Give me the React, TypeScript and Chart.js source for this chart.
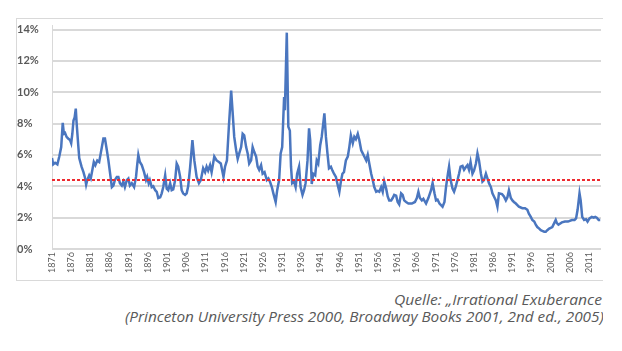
import React, { useEffect, useRef } from "react";
import { Chart, registerables } from "chart.js";

Chart.register(...registerables);

// Dividend yield (year, percent)
const years = [
  1871.0, 1871.3, 1871.8, 1872.4, 1872.9, 1873.4, 1873.8, 1874.1, 1874.4, 1874.8,
  1875.2, 1875.7, 1876.0, 1876.3, 1876.6, 1876.9, 1877.2, 1877.4, 1877.8, 1878.1,
  1878.7, 1879.2, 1879.6, 1879.9, 1880.2, 1880.7, 1881.1, 1881.6, 1881.9, 1882.3,
  1882.8, 1883.3, 1883.7, 1884.0, 1884.4, 1884.8, 1885.3, 1885.7, 1886.1, 1886.6,
  1887.0, 1887.4, 1887.9, 1888.3, 1888.7, 1889.2, 1889.6, 1890.0, 1890.5, 1890.9,
  1891.3, 1891.8, 1892.4, 1892.9, 1893.2, 1893.5, 1893.9, 1894.4, 1895.0, 1895.5,
  1895.8, 1896.2, 1896.5, 1897.0, 1897.4, 1897.9, 1898.3, 1898.7, 1899.2, 1899.6,
  1900.0, 1900.5, 1900.9, 1901.3, 1901.8, 1902.2, 1902.6, 1903.1, 1903.5, 1903.9,
  1904.4, 1904.8, 1905.2, 1905.7, 1906.1, 1906.5, 1907.0, 1907.6, 1908.1, 1908.7,
  1909.3, 1909.8, 1910.4, 1910.9, 1911.3, 1911.7, 1912.2, 1912.6, 1913.3, 1913.9,
  1914.5, 1915.0, 1915.7, 1916.1, 1916.6, 1917.1, 1917.7, 1918.1, 1918.5, 1919.0,
  1919.4, 1919.8, 1920.3, 1920.7, 1921.1, 1921.6, 1922.0, 1922.4, 1922.9, 1923.3,
  1923.7, 1924.2, 1924.6, 1925.0, 1925.5, 1925.9, 1926.4, 1927.0, 1927.4, 1927.8,
  1928.3, 1928.7, 1929.3, 1929.7, 1930.2, 1930.6, 1931.0, 1931.5, 1931.7, 1932.2,
  1932.6, 1933.0, 1933.3, 1933.6, 1934.1, 1934.5, 1934.9, 1935.4, 1935.8, 1936.3,
  1936.7, 1937.1, 1937.6, 1938.0, 1938.3, 1938.7, 1939.1, 1939.6, 1940.0, 1940.4,
  1940.9, 1941.3, 1941.7, 1942.0, 1942.4, 1942.8, 1943.2, 1943.7, 1944.1, 1944.5,
  1945.0, 1945.5, 1945.9, 1946.3, 1946.7, 1947.1, 1947.6, 1948.1, 1948.5, 1948.9,
  1949.4, 1949.8, 1950.2, 1950.7, 1951.1, 1951.6, 1952.0, 1952.4, 1952.9, 1953.3,
  1953.7, 1954.2, 1954.6, 1955.0, 1955.5, 1955.9, 1956.3, 1956.8, 1957.2, 1957.6,
  1958.1, 1958.5, 1958.9, 1959.4, 1959.8, 1960.2, 1960.7, 1961.1, 1961.5, 1962.0,
  1962.4, 1962.8, 1963.3, 1963.9, 1964.8, 1965.6, 1966.1, 1966.5, 1966.9, 1967.4,
  1967.8, 1968.5, 1969.1, 1969.8, 1970.2, 1970.7, 1971.1, 1971.5, 1972.0, 1972.4,
  1972.8, 1973.3, 1973.7, 1974.2, 1974.5, 1974.9, 1975.4, 1975.8, 1976.2, 1976.7,
  1977.1, 1977.5, 1978.0, 1978.4, 1978.8, 1979.3, 1979.7, 1980.1, 1980.6, 1981.0,
  1981.5, 1981.9, 1982.3, 1982.8, 1983.2, 1983.6, 1984.1, 1984.5, 1984.9, 1985.4,
  1985.8, 1986.2, 1986.7, 1987.1, 1987.5, 1988.3, 1988.8, 1989.3, 1989.7, 1990.1,
  1990.6, 1991.0, 1991.4, 1991.9, 1992.3, 1992.7, 1993.6, 1994.3, 1994.9, 1995.3,
  1995.8, 1996.2, 1996.7, 1997.1, 1997.5, 1998.0, 1998.4, 1998.8, 1999.3, 1999.7,
  2000.1, 2000.6, 2001.0, 2001.4, 2001.9, 2002.3, 2002.6, 2003.0, 2003.9, 2004.7,
  2005.5, 2006.5, 2007.2, 2007.6, 2008.0, 2008.5, 2008.8, 2009.2, 2009.7, 2010.2,
  2010.6, 2011.1, 2011.7, 2012.2, 2012.6, 2013.0, 2013.5, 2013.9,
];

const yields = [
  5.8, 5.4, 5.5, 5.4, 5.9, 6.5, 8.05, 7.35, 7.4, 7.15,
  7.05, 6.95, 6.75, 7.35, 8.2, 8.4, 8.95, 8.1, 6.75, 5.8,
  5.25, 4.9, 4.55, 4.1, 4.4, 4.7, 4.5, 5.15, 5.55, 5.35,
  5.65, 5.55, 6.1, 6.5, 7.05, 7.05, 6.3, 5.65, 4.9, 3.95,
  4.05, 4.4, 4.6, 4.6, 4.2, 4.05, 4.3, 3.95, 4.4, 4.5,
  4.05, 4.2, 3.95, 4.6, 5.35, 6.0, 5.55, 5.35, 4.9, 4.4,
  4.6, 4.2, 4.4, 3.95, 4.0, 3.75, 3.65, 3.25, 3.3, 3.55,
  3.95, 4.7, 3.85, 3.75, 4.2, 3.75, 3.8, 4.4, 5.45, 5.25,
  4.6, 3.75, 3.55, 3.45, 3.55, 4.0, 5.2, 6.95, 5.65, 4.6,
  4.2, 4.4, 5.15, 4.9, 5.25, 5.0, 5.35, 4.9, 5.9, 5.65,
  5.55, 5.45, 4.6, 5.25, 5.65, 7.8, 10.1, 8.65, 7.15, 6.3,
  5.75, 6.1, 6.5, 7.35, 7.25, 6.5, 6.1, 5.45, 5.65, 6.5,
  6.2, 5.9, 5.25, 5.05, 5.35, 4.8, 4.9, 4.4, 4.5, 4.3,
  3.95, 3.55, 3.0, 3.75, 4.4, 6.1, 6.5, 9.7, 8.85, 13.8,
  7.8, 7.55, 5.25, 4.2, 4.3, 3.95, 4.8, 5.25, 3.95, 3.45,
  3.75, 4.2, 5.65, 7.7, 6.95, 4.15, 4.8, 4.7, 5.65, 5.45,
  6.6, 7.15, 8.0, 8.65, 7.15, 6.1, 5.15, 5.25, 5.0, 4.8,
  4.6, 4.05, 3.65, 4.3, 4.8, 4.9, 5.65, 5.9, 6.5, 7.25,
  6.75, 7.15, 7.0, 7.35, 6.95, 6.3, 6.1, 5.9, 5.65, 6.0,
  5.45, 4.8, 4.4, 3.95, 3.65, 3.7, 3.65, 3.95, 3.65, 4.3,
  3.85, 3.35, 3.1, 3.1, 3.25, 3.45, 3.4, 3.0, 2.85, 3.55,
  3.45, 3.1, 3.0, 2.9, 2.9, 3.0, 3.25, 3.65, 3.25, 3.1,
  3.2, 2.9, 3.25, 3.75, 4.2, 3.55, 3.1, 3.15, 2.9, 2.8,
  2.7, 3.0, 3.95, 4.8, 5.25, 4.4, 3.85, 3.65, 3.95, 4.4,
  4.8, 5.25, 5.3, 5.05, 5.2, 5.35, 5.05, 5.55, 4.8, 5.0,
  5.45, 6.1, 5.65, 4.8, 4.3, 4.4, 4.8, 4.5, 4.2, 3.95,
  3.55, 3.35, 3.1, 2.7, 3.55, 3.5, 3.35, 3.1, 3.3, 3.75,
  3.25, 3.1, 3.0, 2.9, 2.8, 2.7, 2.6, 2.6, 2.5, 2.25,
  2.05, 1.85, 1.75, 1.55, 1.4, 1.3, 1.2, 1.15, 1.1, 1.1,
  1.2, 1.3, 1.35, 1.4, 1.65, 1.85, 1.65, 1.55, 1.7, 1.75,
  1.75, 1.85, 1.85, 1.95, 2.5, 3.55, 3.1, 2.05, 1.85, 1.9,
  1.75, 1.95, 2.05, 2.0, 2.05, 2.0, 1.85, 1.85,
];

const averageYield = 4.4;
const averageSpan = [1871, 2014.1];

const yTickValues = [0, 2, 4, 6, 8, 10, 12, 14];
const xTickYears = [
  1871, 1876, 1881, 1886, 1891, 1896, 1901, 1906, 1911, 1916,
  1921, 1926, 1931, 1936, 1941, 1946, 1951, 1956, 1961, 1966,
  1971, 1976, 1981, 1986, 1991, 1996, 2001, 2006, 2011,
];

const captionLine1 = "Quelle: \u201EIrrational Exuberance";
const captionLine2 = "(Princeton University Press 2000, Broadway Books 2001, 2nd ed., 2005";
const captionLine2Tail = ")";

export default function App() {
  const canvasRef = useRef<HTMLCanvasElement>(null);
  const line1Ref = useRef<HTMLSpanElement>(null);
  const line2Ref = useRef<HTMLSpanElement>(null);
  const line2MainRef = useRef<HTMLSpanElement>(null);

  useEffect(() => {
    const fit = () => {
      if (line1Ref.current) {
        const w = line1Ref.current.offsetWidth;
        line1Ref.current.style.transform = `scaleX(${208 / w})`;
      }
      if (line2Ref.current && line2MainRef.current) {
        const w = line2MainRef.current.offsetWidth;
        line2Ref.current.style.transform = `scaleX(${474 / w})`;
      }
    };
    fit();
    (document as any).fonts?.ready?.then(fit);

    const chart = new Chart(canvasRef.current as HTMLCanvasElement, {
      type: "line",
      data: {
        datasets: [
          {
            data: years.map((x, i) => ({ x, y: yields[i] })),
            borderColor: "#4a76bf",
            borderWidth: 2.5,
            pointRadius: 0,
            tension: 0,
            order: 1,
          },
          {
            data: averageSpan.map((x) => ({ x, y: averageYield })),
            borderColor: "#ee2a2f",
            borderWidth: 2,
            borderDash: [3, 2],
            pointRadius: 0,
            order: 0,
          },
        ],
      },
      options: {
        animation: false,
        responsive: false,
        layout: { padding: { left: 0, right: 2, top: 0, bottom: 0 } },
        plugins: { legend: { display: false }, tooltip: { enabled: false } },
        scales: {
          x: {
            type: "linear",
            min: 1871,
            max: 2014.1,
            afterBuildTicks: (s: any) => {
              s.ticks = xTickYears.map((v) => ({ value: v }));
            },
            afterFit: (s: any) => {
              s.height = 31;
            },
            grid: { display: false, drawTicks: false },
            border: { display: false },
            ticks: {
              autoSkip: false,
              minRotation: 90,
              maxRotation: 90,
              padding: 3,
              color: "#595959",
              font: { family: "Lato", size: 9 },
              callback: (v: any) => String(v),
            },
          },
          y: {
            type: "linear",
            min: 0,
            max: 14.25,
            afterBuildTicks: (s: any) => {
              s.ticks = yTickValues.map((v) => ({ value: v }));
            },
            afterFit: (s: any) => {
              s.width = 35;
            },
            grid: { color: "#d9d9d9", lineWidth: 2, drawTicks: false },
            border: { display: true, color: "#d9d9d9", width: 1 },
            ticks: {
              crossAlign: "far",
              padding: 0,
              color: "#595959",
              font: { family: "Lato", size: 11, weight: "bold" },
              callback: (v: any) => `${v}%`,
            },
          },
        },
      },
    });
    return () => chart.destroy();
  }, []);

  const captionFont: React.CSSProperties = {
    fontFamily: "'Open Sans', sans-serif",
    fontStyle: "italic",
    fontSize: 14,
    lineHeight: "20px",
    color: "#595959",
    whiteSpace: "nowrap",
  };

  return (
    <div style={{ position: "relative", width: 606, height: 335 }}>
      <div
        style={{
          position: "absolute",
          left: 8,
          top: 10,
          width: 586,
          height: 261,
          borderLeft: "1px solid #d9d9d9",
          borderTop: "1px solid #d9d9d9",
          borderBottom: "1px solid #d9d9d9",
        }}
      >
        <canvas ref={canvasRef} width={586} height={261} style={{ display: "block" }} />
      </div>
      <div style={{ position: "absolute", right: 12, top: 282, ...captionFont }}>
        <span ref={line1Ref} style={{ display: "inline-block", transformOrigin: "right center" }}>
          {captionLine1}
        </span>
      </div>
      <div style={{ position: "absolute", left: 117, top: 299, width: 478, overflow: "hidden", ...captionFont }}>
        <span ref={line2Ref} style={{ display: "inline-block", transformOrigin: "left center" }}>
          <span ref={line2MainRef}>{captionLine2}</span>
          {captionLine2Tail}
        </span>
      </div>
    </div>
  );
}
